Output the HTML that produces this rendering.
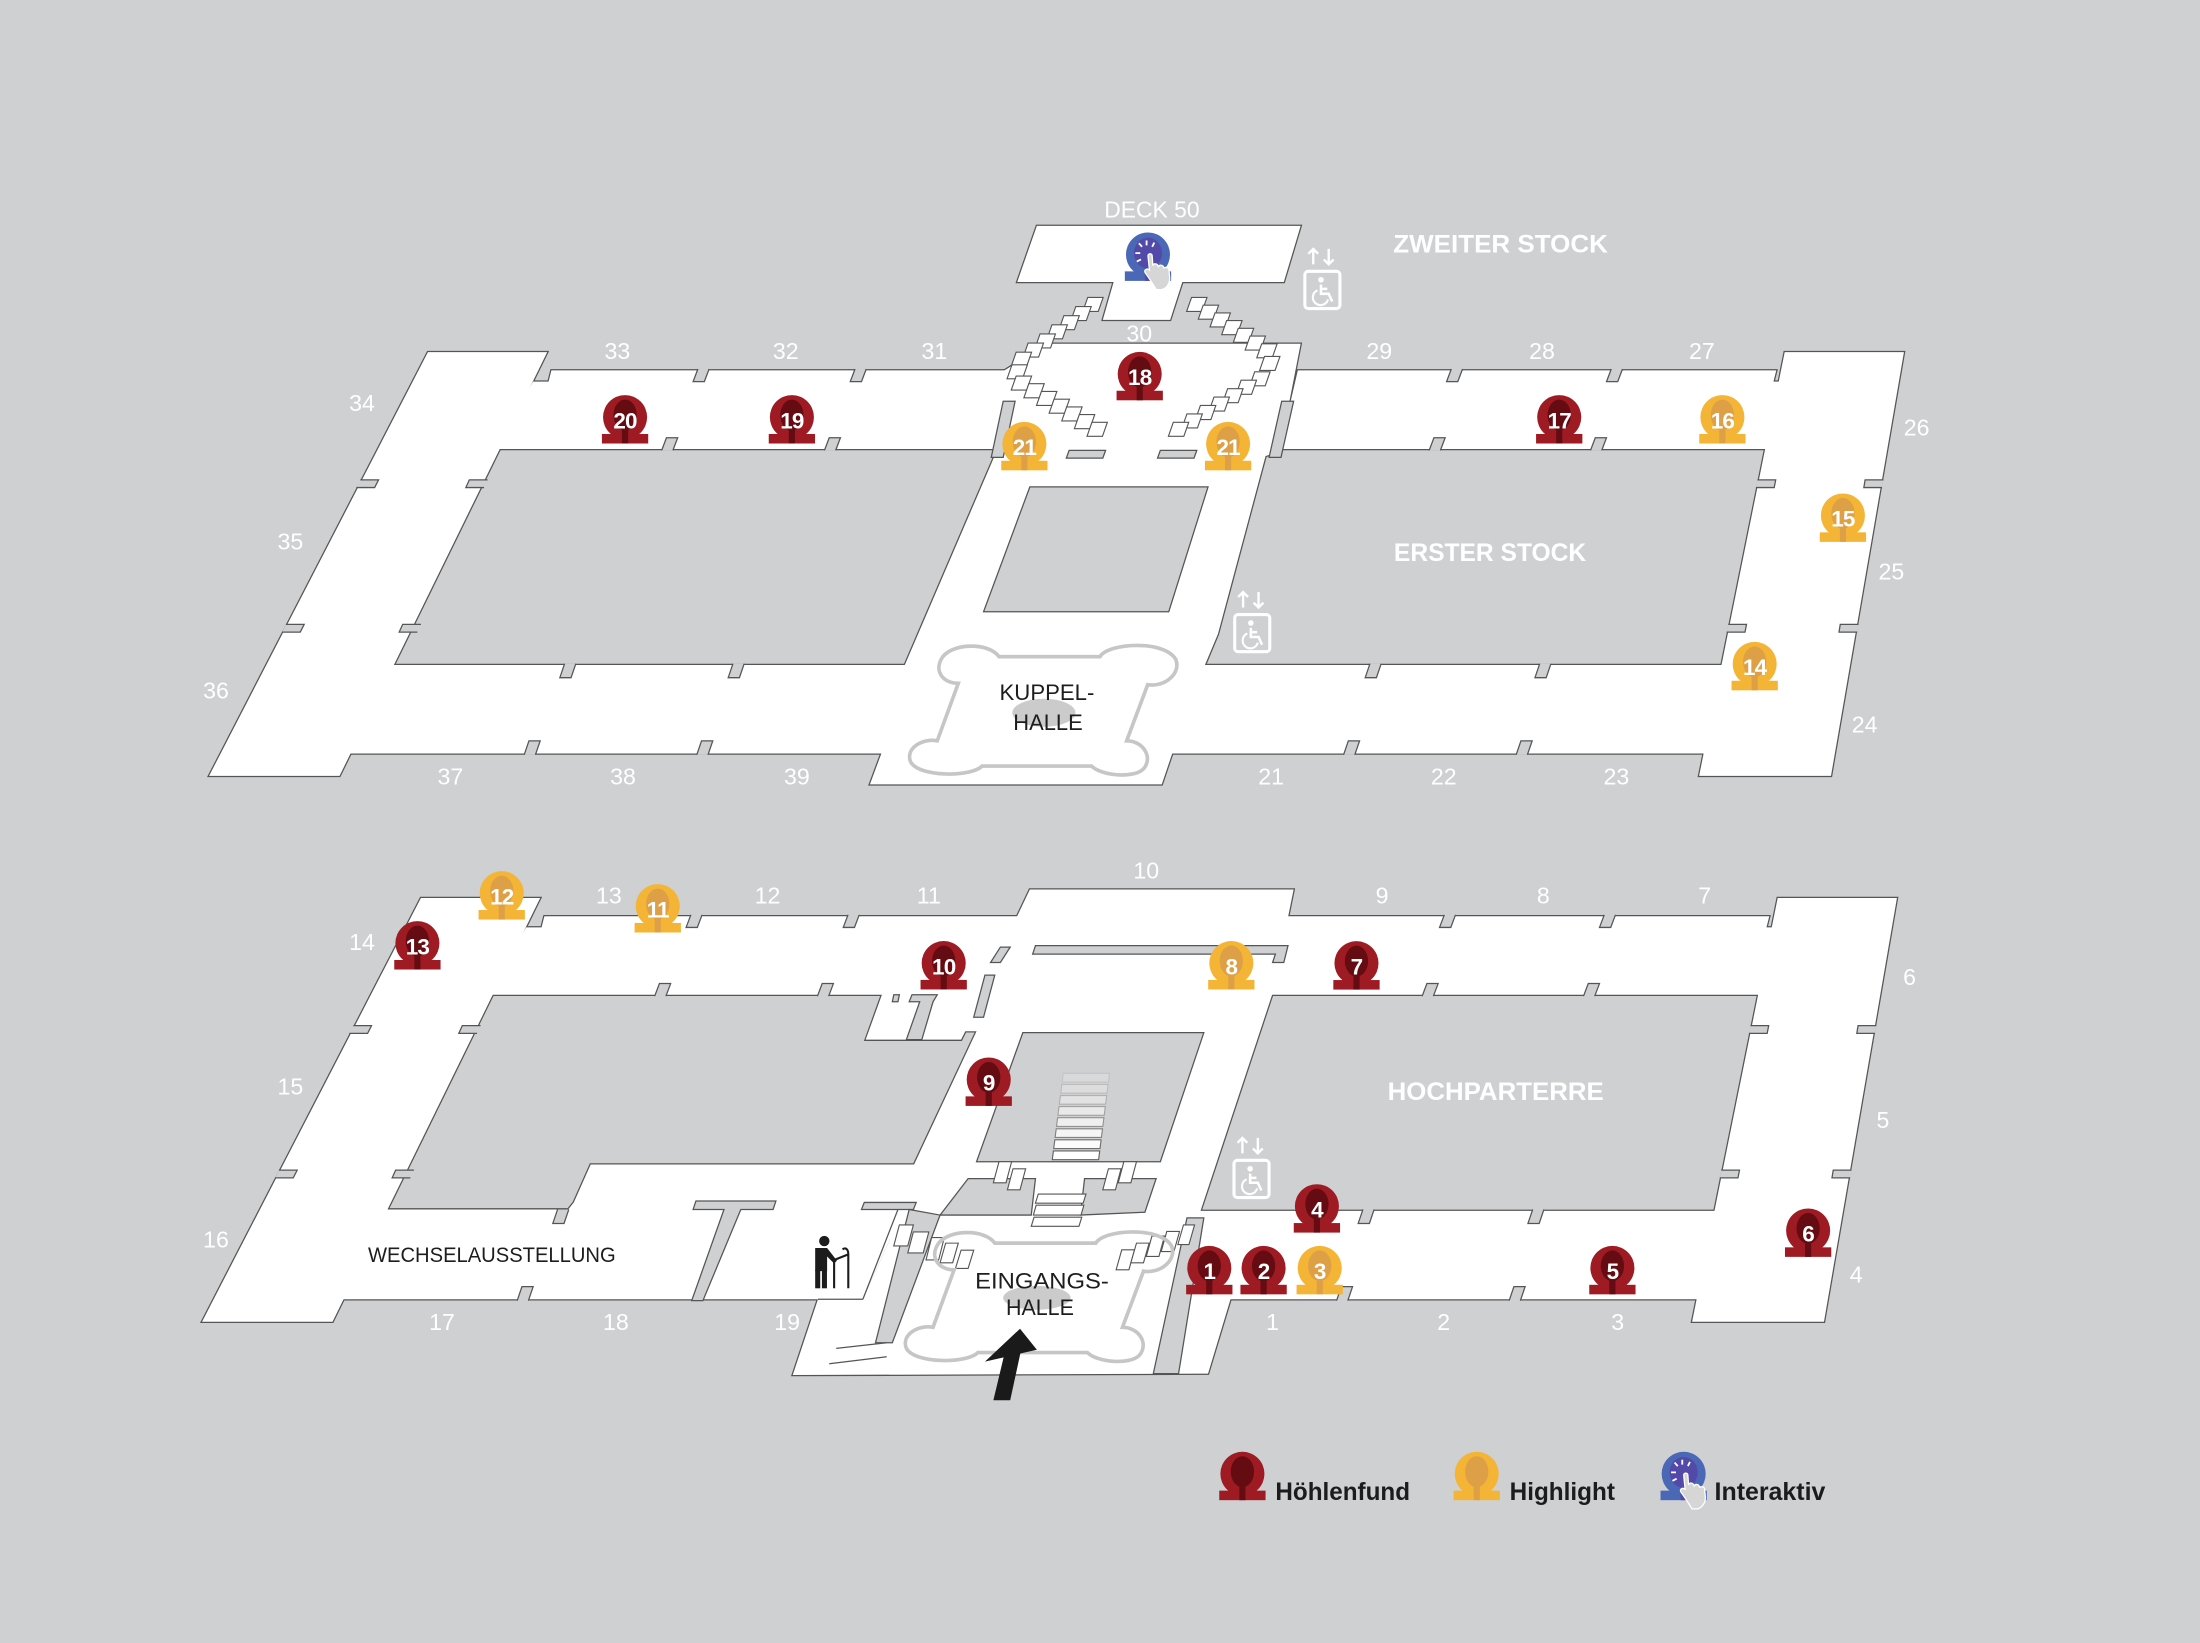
<!DOCTYPE html>
<html><head><meta charset="utf-8"><style>
html,body{margin:0;padding:0;background:#cfd0d2;}
svg{display:block;}
.g{fill:#cfd0d2;stroke:#555;stroke-width:.9;stroke-linejoin:miter;}
.n{fill:#cfd0d2;stroke:#555;stroke-width:.9;}
.s{fill:#fff;stroke:#555;stroke-width:.8;}
.w{fill:#fff;font-family:"Liberation Sans",sans-serif;font-size:16.5px;text-anchor:middle;}
.t{fill:#fff;font-family:"Liberation Sans",sans-serif;font-weight:bold;font-size:18px;}
.d{fill:#1d1d1d;font-family:"Liberation Sans",sans-serif;font-size:15.5px;}
.mn{fill:#fff;font-family:"Liberation Sans",sans-serif;font-weight:bold;font-size:16px;text-anchor:middle;letter-spacing:-0.6px;}
.lg{fill:#1c1c1c;font-family:"Liberation Sans",sans-serif;font-weight:bold;font-size:17.5px;}
</style></head><body>
<svg xmlns="http://www.w3.org/2000/svg" xmlns:xlink="http://www.w3.org/1999/xlink" width="2200" height="1643" viewBox="0 0 1568 1171" preserveAspectRatio="none">
<defs>
 <g id="U">
  <polygon points="305,251 390,251 242,553 149,553"/>
  <polygon points="393,264 722,264 708,320 352,320 380,272 391,272"/>
  <polygon points="746,245 927,245 912,322 902,325 868,452 855,483 641,483 711,320 716,264"/>
  <polygon points="655,465 860,465 828,559 620,559"/>
  <polygon points="278,474 665,474 640,537 248,537"/>
  <polygon points="845,474 1235,474 1225,537 825,537"/>
  <polygon points="1272,251 1357,251 1305,553 1211,553"/>
  <polygon points="925,264 1266,264 1264,272 1270,272 1262,320 912,320"/>
  <polygon points="739,161 927,161 915,201 725,201"/>
  <polygon points="794,200 843,200 834,228 786,228"/>
 </g>
 <g id="L">
  <polygon points="300,640 385,640 237,942 144,942"/>
  <polygon points="388,653 730,653 714,709 347,709 375,661 386,661"/>
  <polygon points="630,705 712,705 700,735 688,735 685,741 617,741"/>
  <polygon points="734,634 922,634 907,708 850,880 877,926 861,979 565,980 583,926 615,926 634,884 651,831 696,735 709,709 724,655"/>
  <polygon points="918,653 1261,653 1259,661 1265,661 1257,709 905,709"/>
  <polygon points="1267,640 1352,640 1300,942 1206,942"/>
  <polygon points="845,863 1230,863 1219,926 838,926"/>
  <polygon points="270,862 405,862 409,857 421,830 660,830 634,884 615,926 240,926"/>
 </g>
 <g id="RN">
  <path class="n" d="M497.4,263 L494,272 L502,272 L505.4,263"/>
  <path class="n" d="M609.4,263 L606,272 L614,272 L617.4,263"/>
  <path class="n" d="M1034.4,263 L1031,272 L1039,272 L1042.4,263"/>
  <path class="n" d="M1148.4,263 L1145,272 L1153,272 L1156.4,263"/>
  <path class="n" d="M471.6,321 L475,312 L483,312 L479.6,321"/>
  <path class="n" d="M587.6,321 L591,312 L599,312 L595.6,321"/>
  <path class="n" d="M1018.6,321 L1022,312 L1030,312 L1026.6,321"/>
  <path class="n" d="M1133.6,321 L1137,312 L1145,312 L1141.6,321"/>
  <path class="n" d="M402.4,473 L399,483 L407,483 L410.4,473"/>
  <path class="n" d="M976.4,473 L973,483 L981,483 L984.4,473"/>
  <path class="n" d="M1097.4,473 L1094,483 L1102,483 L1105.4,473"/>
  <path class="n" d="M373.6,538 L377,528 L385,528 L381.6,538"/>
  <path class="n" d="M957.6,538 L961,528 L969,528 L965.6,538"/>
  <path class="n" d="M1080.6,538 L1084,528 L1092,528 L1088.6,538"/>
  <path class="n" d="M256.8,342 L269.8,342 L267,347.5 L254,347.5"/>
  <path class="n" d="M203.8,445 L216.8,445 L214,450.5 L201,450.5"/>
  <path class="n" d="M347.5,342 L334.5,342 L332,347.5 L345,347.5"/>
  <path class="n" d="M300,445 L287,445 L284.5,450.5 L297.5,450.5"/>
  <path class="n" d="M1342.3,342 L1329.3,342 L1328.4,347.5 L1341.4,347.5"/>
  <path class="n" d="M1324.6,445 L1311.6,445 L1310.7,450.5 L1323.7,450.5"/>
  <path class="n" d="M1252.6,342 L1265.6,342 L1264.5,347.5 L1251.5,347.5"/>
  <path class="n" d="M1231.8,445 L1244.8,445 L1243.7,450.5 L1230.7,450.5"/>
 </g>
 <polygon id="bx" points="-3.75,-5 7.25,-5 3.75,5 -7.25,5"/>
 <g id="mR"><circle r="15.7" fill="#9e1b23"/><rect x="-16.5" y="12" width="33" height="6.8" fill="#9e1b23"/><ellipse cy="-1.5" rx="8.3" ry="11" fill="#650c12"/><rect x="-2.2" y="6" width="4.4" height="12.8" fill="#650c12"/></g>
 <g id="mY"><circle r="15.7" fill="#f4b536"/><rect x="-16.5" y="12" width="33" height="6.8" fill="#f4b536"/><ellipse cy="-1.5" rx="8.3" ry="11" fill="#dea046"/><rect x="-2.2" y="6" width="4.4" height="12.8" fill="#dea046"/></g>
 <g id="mB"><circle r="15.7" fill="#4a68b6"/><rect x="-16.5" y="12" width="33" height="6.8" fill="#4a68b6"/><ellipse cy="-1" rx="10" ry="11" fill="#5249a8"/><rect x="-2.2" y="6" width="4.4" height="12.8" fill="#5249a8"/>
  <path d="M-9,-1 L-5.5,-1 M-6.5,-8 L-4.2,-5.5 M-1,-10 L-1,-6.5 M4.5,-8.5 L3,-5.5 M-8,5 L-5,3.5" stroke="#fff" stroke-width="1.3" fill="none"/>
  <path d="M0,1 C0,-1 3,-1 3,1 L3.5,8 C4,6 7,6 7.5,9 C8,7 11,7 11.5,10 C12,8.5 15,9 15,11.5 L15.5,17 C15.5,21 13,24 10,25 L6,25 C4,22 1,17 -2,13 C-3,11 -1,9.5 1,11 Z" fill="#d6d6d6" stroke="#fff" stroke-width="0.9"/>
 </g>
 <g id="lift">
  <rect x="1" y="1" width="25" height="26.5" rx="2.5" fill="none" stroke="#fff" stroke-width="2.2"/>
  <circle cx="12.5" cy="7" r="2" fill="#fff"/>
  <path d="M12.5,10.5 V17 H18 L20.5,22.5 M12.5,13.5 H17" fill="none" stroke="#fff" stroke-width="1.8"/>
  <path d="M10,14.5 A5.5,5.5 0 1 0 17.5,21" fill="none" stroke="#fff" stroke-width="1.5"/>
  <path d="M7,-4 V-15 M3.5,-11.5 L7,-15 L10.5,-11.5 M18,-15 V-4 M14.5,-7.5 L18,-4 L21.5,-7.5" fill="none" stroke="#fff" stroke-width="1.7"/>
 </g>
 <path id="clover" d="M712,468 L784,468 C790,458 830,456 838,470 C842,480 830,490 818,488 L803,528 C815,528 822,540 815,548 C808,555 785,553 778,546 L700,546 C692,554 655,554 649,543 C645,533 658,526 668,528 L683,487 C672,487 665,478 672,468 C680,458 705,458 712,468 Z" fill="none" stroke="#c6c6c6" stroke-width="2.6"/>
</defs>

<rect width="1568" height="1171" fill="#cfd0d2"/>

<!-- floors: union outline trick -->
<use xlink:href="#U" href="#U" fill="#555" stroke="#555" stroke-width="1.8"/>
<use xlink:href="#U" href="#U" fill="#fff"/>
<use xlink:href="#L" href="#L" fill="#555" stroke="#555" stroke-width="1.8"/>
<use xlink:href="#L" href="#L" fill="#fff"/>

<!-- notches -->
<use xlink:href="#RN" href="#RN"/>
<use xlink:href="#RN" href="#RN" transform="translate(-5,389)"/>
<path class="n" d="M522.4,473 L519,483 L527,483 L530.4,473"/>
<path class="n" d="M496.6,538 L500,528 L508,528 L504.6,538"/>

<!-- upper grey overlays -->
<polygon class="g" points="734,347 861,347 833,436 701,436"/>
<polygon class="g" points="715,286 723.5,286 715,326 706.5,326"/>
<polygon class="g" points="913.5,286 922,286 913,326 904.5,326"/>
<polygon class="g" points="762,321 788,321 786,326.5 760,326.5"/>
<polygon class="g" points="827,321 853,321 851,326.5 825,326.5"/>

<!-- upper stairs -->
<g class="s">
 <use xlink:href="#bx" href="#bx" x="779" y="217"/>
 <use xlink:href="#bx" href="#bx" x="770.5" y="223.5"/>
 <use xlink:href="#bx" href="#bx" x="762" y="230"/>
 <use xlink:href="#bx" href="#bx" x="753.5" y="236.5"/>
 <use xlink:href="#bx" href="#bx" x="745" y="243"/>
 <use xlink:href="#bx" href="#bx" x="736.5" y="249.5"/>
 <use xlink:href="#bx" href="#bx" x="728" y="256"/>
 <use xlink:href="#bx" href="#bx" x="725" y="265"/>
 <use xlink:href="#bx" href="#bx" x="728" y="273"/>
 <use xlink:href="#bx" href="#bx" x="737" y="278.5"/>
 <use xlink:href="#bx" href="#bx" x="746" y="284"/>
 <use xlink:href="#bx" href="#bx" x="755" y="289.5"/>
 <use xlink:href="#bx" href="#bx" x="764" y="295"/>
 <use xlink:href="#bx" href="#bx" x="773" y="300.5"/>
 <use xlink:href="#bx" href="#bx" x="782" y="306"/>
 <use xlink:href="#bx" href="#bx" x="853" y="217"/>
 <use xlink:href="#bx" href="#bx" x="861.3" y="222.5"/>
 <use xlink:href="#bx" href="#bx" x="869.7" y="228"/>
 <use xlink:href="#bx" href="#bx" x="878" y="233.5"/>
 <use xlink:href="#bx" href="#bx" x="886.3" y="239"/>
 <use xlink:href="#bx" href="#bx" x="894.7" y="244.5"/>
 <use xlink:href="#bx" href="#bx" x="903" y="250"/>
 <use xlink:href="#bx" href="#bx" x="905" y="259"/>
 <use xlink:href="#bx" href="#bx" x="898" y="270"/>
 <use xlink:href="#bx" href="#bx" x="888.3" y="276"/>
 <use xlink:href="#bx" href="#bx" x="878.7" y="282"/>
 <use xlink:href="#bx" href="#bx" x="869" y="288"/>
 <use xlink:href="#bx" href="#bx" x="859.3" y="294"/>
 <use xlink:href="#bx" href="#bx" x="849.7" y="300"/>
 <use xlink:href="#bx" href="#bx" x="840" y="306"/>
</g>

<!-- lower grey overlays -->
<polygon class="g" points="729,736 858,736 827,828 696,828"/>
<polygon class="g" points="738,674 918,674 915,686 907,686 909,680 736,680"/>
<polygon class="g" points="713,675 720,675 713,686 706,686"/>
<polygon class="g" points="702,695 709,695 701,725 694,725"/>
<polygon class="g" points="650,709 668,709 665,714 657,741 646,741 655.5,714 648,714"/>
<polygon class="g" points="637,709 641,709 640,714 636,714"/>
<polygon class="g" points="496,856 553,856 551,862 528,862 501,927 493,927 516,862 494,862"/>
<polygon class="g" points="616,857 653,857 651,862 614,862"/>
<polygon class="g" points="690,840 738,840 735,866 670,866"/>
<polygon class="g" points="773,840 824,840 816,864 770,866"/>
<polygon class="g" points="648,862 670,866 636,957 624,957"/>
<polygon class="g" points="846,868 858,868 840,979 822,979"/>

<!-- light well steps -->
<polygon points="757.8,765 790.8,765 790,771.2 757,771.2" fill="#d8d9da" stroke="#c4c4c4" stroke-width=".8"/>
<polygon points="756.8,772.9 789.8,772.9 789,779.1 756,779.1" fill="#dcdcdd" stroke="#bcbcbc" stroke-width=".8"/>
<polygon points="755.8,780.8 788.8,780.8 788,787 755,787" fill="#e2e2e2" stroke="#b0b0b0" stroke-width=".8"/>
<polygon points="754.8,788.7 787.8,788.7 787,794.9 754,794.9" fill="#e9e9e9" stroke="#a2a2a2" stroke-width=".8"/>
<polygon points="753.8,796.6 786.8,796.6 786,802.8 753,802.8" fill="#efefef" stroke="#929292" stroke-width=".8"/>
<polygon points="752.8,804.5 785.8,804.5 785,810.7 752,810.7" fill="#f5f5f5" stroke="#818181" stroke-width=".8"/>
<polygon points="751.8,812.4 784.8,812.4 784,818.6 751,818.6" fill="#fbfbfb" stroke="#6e6e6e" stroke-width=".8"/>
<polygon points="750.8,820.3 783.8,820.3 783,826.5 750,826.5" fill="#fff" stroke="#606060" stroke-width=".8"/>

<g class="s">
 <polygon points="712,828 721,828 717,843 708,843"/>
 <polygon points="722,833 731,833 727,848 718,848"/>
 <polygon points="790,833 799,833 795,848 786,848"/>
 <polygon points="801,828 810,828 806,843 797,843"/>
 <polygon points="740,851 774,851 772,857.5 738,857.5"/>
 <polygon points="738.5,859 772.5,859 770.5,866 736.5,866"/>
 <polygon points="737,867.5 771,867.5 769,874 735,874"/>
 <polygon points="641,873 651,873 647,888 637,888"/>
 <polygon points="651,878 662,878 658,893 647,893"/>
 <polygon points="664,882 673,882 669,898 660,898"/>
 <polygon points="674,886 683,886 679,900 670,900"/>
 <polygon points="685,891 694,891 690,904 681,904"/>
 <polygon points="799.5,890.8 808.6,890.8 804.6,905 795.5,905"/>
 <polygon points="810,886 819,886 815,900 806,900"/>
 <polygon points="821,881 830,881 826,895.5 817,895.5"/>
 <polygon points="831.6,877.7 840.7,877.7 836.7,892 827.6,892"/>
 <polygon points="843.5,873 851.4,873 847.4,887 839.5,887"/>
</g>
<path d="M640,862 L615,926 M583,926 L615,926 M596,961 L632,957 M591,972 L632,967" stroke="#555" stroke-width=".9" fill="none"/>

<!-- decorative hall shapes -->
<ellipse cx="744" cy="508" rx="22.5" ry="10" fill="#cbcbcb"/>
<use xlink:href="#clover" href="#clover"/>
<ellipse cx="739" cy="925" rx="24" ry="8.5" fill="#cbcbcb"/>
<use xlink:href="#clover" href="#clover" transform="translate(-3,418)"/>

<!-- dark labels -->
<text class="d" x="712.4" y="499" textLength="67.6" lengthAdjust="spacingAndGlyphs">KUPPEL-</text>
<text class="d" x="722.2" y="520.3" textLength="49.5" lengthAdjust="spacingAndGlyphs">HALLE</text>
<text class="d" x="695" y="918.3" textLength="95.3" lengthAdjust="spacingAndGlyphs">EINGANGS-</text>
<text class="d" x="717" y="937.3" textLength="48.4" lengthAdjust="spacingAndGlyphs">HALLE</text>
<text class="d" x="262.3" y="899.3" textLength="176.5" lengthAdjust="spacingAndGlyphs" style="font-size:15px">WECHSELAUSSTELLUNG</text>

<!-- entrance arrow -->
<polygon points="727,947 739,962 727.2,964.7 720,998 708,998 715.3,967.4 702,970.5" fill="#1a1a1a"/>

<!-- person with walker -->
<g fill="#1c1c1c">
 <circle cx="587.5" cy="884.5" r="3.7"/>
 <path d="M581,889.5 L589.5,889.5 L596.5,898.5 L594.5,900.5 L589.5,895.5 L589.5,906 L581,906 Z"/>
 <rect x="581" y="905" width="3.6" height="13.2"/>
 <rect x="585.8" y="905" width="3.6" height="13.2"/>
</g>
<path d="M594.5,898 V918.2 M604.6,894 V918.2 M594.5,898 L604.6,894 M604.6,894 C604.6,890 602.5,889 600.5,890.5" stroke="#1c1c1c" stroke-width="1.5" fill="none"/>

<!-- lifts -->
<use xlink:href="#lift" href="#lift" x="929" y="192.4"/>
<use xlink:href="#lift" href="#lift" x="879" y="437"/>
<use xlink:href="#lift" href="#lift" x="878.5" y="826"/>

<!-- white titles -->
<text class="w" x="821" y="155" textLength="68" lengthAdjust="spacingAndGlyphs">DECK 50</text>
<text class="t" x="993" y="180" textLength="153" lengthAdjust="spacingAndGlyphs">ZWEITER STOCK</text>
<text class="t" x="993.5" y="400" textLength="137" lengthAdjust="spacingAndGlyphs">ERSTER STOCK</text>
<text class="t" x="989" y="784" textLength="154" lengthAdjust="spacingAndGlyphs">HOCHPARTERRE</text>

<!-- room numbers -->
<g class="w">
 <text x="440" y="256">33</text><text x="560" y="256">32</text><text x="666" y="256">31</text>
 <text x="812" y="243.5">30</text><text x="983" y="256">29</text><text x="1099" y="256">28</text><text x="1213" y="256">27</text>
 <text x="258" y="293">34</text><text x="1366" y="310.5">26</text><text x="207" y="391.5">35</text><text x="1348" y="413">25</text>
 <text x="154" y="498">36</text><text x="1329" y="522">24</text>
 <text x="321" y="559">37</text><text x="444" y="559">38</text><text x="568" y="559">39</text>
 <text x="906" y="559">21</text><text x="1029" y="559">22</text><text x="1152" y="559">23</text>
 <text x="258" y="677">14</text><text x="434" y="644">13</text><text x="547" y="644">12</text><text x="662" y="644">11</text>
 <text x="817" y="626">10</text><text x="985" y="644">9</text><text x="1100" y="644">8</text><text x="1215" y="644">7</text>
 <text x="1361" y="702">6</text><text x="207" y="780">15</text><text x="1342" y="804">5</text><text x="154" y="889">16</text>
 <text x="1323" y="914">4</text><text x="315" y="948">17</text><text x="439" y="948">18</text><text x="561" y="948">19</text>
 <text x="907" y="948">1</text><text x="1029" y="948">2</text><text x="1153" y="948">3</text>
</g>

<!-- markers -->
<use xlink:href="#mR" href="#mR" x="445.5" y="297.3"/><text class="mn" x="445.5" y="305.3">20</text>
<use xlink:href="#mR" href="#mR" x="564.4" y="297.3"/><text class="mn" x="564.4" y="305.3">19</text>
<use xlink:href="#mR" href="#mR" x="812.3" y="266.5"/><text class="mn" x="812.3" y="274.5">18</text>
<use xlink:href="#mR" href="#mR" x="1111.3" y="297.3"/><text class="mn" x="1111.3" y="305.3">17</text>
<use xlink:href="#mY" href="#mY" x="1227.6" y="297.3"/><text class="mn" x="1227.6" y="305.3">16</text>
<use xlink:href="#mY" href="#mY" x="730.1" y="316.4"/><text class="mn" x="730.1" y="324.4">21</text>
<use xlink:href="#mY" href="#mY" x="875.3" y="316.4"/><text class="mn" x="875.3" y="324.4">21</text>
<use xlink:href="#mY" href="#mY" x="1313.5" y="367.4"/><text class="mn" x="1313.5" y="375.4">15</text>
<use xlink:href="#mY" href="#mY" x="1250.6" y="473.2"/><text class="mn" x="1250.6" y="481.2">14</text>
<use xlink:href="#mB" href="#mB" x="818.2" y="181.4"/>

<use xlink:href="#mY" href="#mY" x="357.6" y="636.6"/><text class="mn" x="357.6" y="644.6">12</text>
<use xlink:href="#mY" href="#mY" x="468.8" y="645.8"/><text class="mn" x="468.8" y="653.8">11</text>
<use xlink:href="#mR" href="#mR" x="297.5" y="672.2"/><text class="mn" x="297.5" y="680.2">13</text>
<use xlink:href="#mR" href="#mR" x="672.6" y="686.4"/><text class="mn" x="672.6" y="694.4">10</text>
<use xlink:href="#mY" href="#mY" x="877.6" y="686.4"/><text class="mn" x="877.6" y="694.4">8</text>
<use xlink:href="#mR" href="#mR" x="966.8" y="686.5"/><text class="mn" x="966.8" y="694.5">7</text>
<use xlink:href="#mR" href="#mR" x="704.7" y="769.4"/><text class="mn" x="704.7" y="777.4">9</text>
<use xlink:href="#mR" href="#mR" x="938.6" y="859.7"/><text class="mn" x="938.6" y="867.7">4</text>
<use xlink:href="#mR" href="#mR" x="1288.7" y="877"/><text class="mn" x="1288.7" y="885">6</text>
<use xlink:href="#mR" href="#mR" x="861.9" y="903.7"/><text class="mn" x="861.9" y="911.7">1</text>
<use xlink:href="#mR" href="#mR" x="900.6" y="903.7"/><text class="mn" x="900.6" y="911.7">2</text>
<use xlink:href="#mY" href="#mY" x="940.6" y="903.7"/><text class="mn" x="940.6" y="911.7">3</text>
<use xlink:href="#mR" href="#mR" x="1149.2" y="903.7"/><text class="mn" x="1149.2" y="911.7">5</text>

<!-- legend -->
<use xlink:href="#mR" href="#mR" x="885.5" y="1050.4"/>
<text class="lg" x="909" y="1069" textLength="96" lengthAdjust="spacingAndGlyphs">Höhlenfund</text>
<use xlink:href="#mY" href="#mY" x="1052.5" y="1050.4"/>
<text class="lg" x="1076" y="1069" textLength="75" lengthAdjust="spacingAndGlyphs">Highlight</text>
<use xlink:href="#mB" href="#mB" x="1200" y="1050.4"/>
<text class="lg" x="1222" y="1069" textLength="79" lengthAdjust="spacingAndGlyphs">Interaktiv</text>
</svg>
</body></html>
